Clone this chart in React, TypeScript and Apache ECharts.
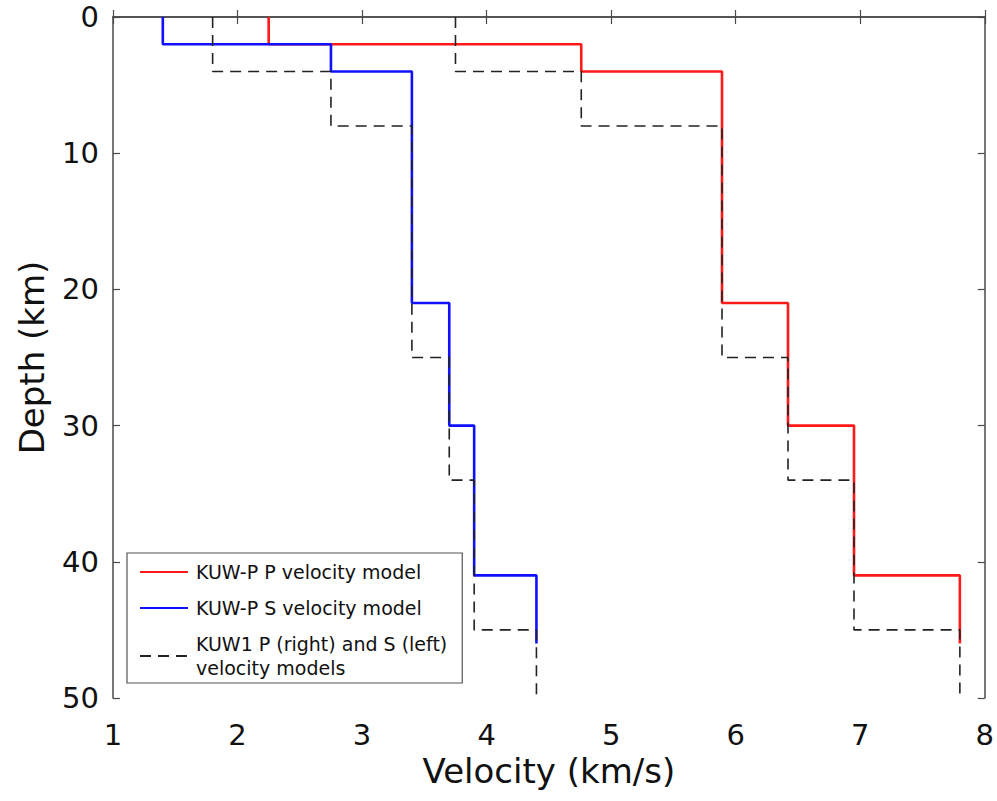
import React, { useEffect, useRef } from "react";
import * as echarts from "echarts";

// KUW-P model (solid): layer tops (km), bottom of last drawn layer, velocities (km/s)
const kuwpTops = [0, 2, 4, 21, 30, 41];
const kuwpBottom = 46;
const kuwpVp = [2.25, 4.76, 5.89, 6.42, 6.95, 7.8];
const kuwpVs = [1.4, 2.75, 3.4, 3.7, 3.9, 4.4];

// KUW1 model (dashed)
const kuw1Tops = [0, 4, 8, 25, 34, 45];
const kuw1Bottom = 50;
const kuw1Vp = [3.75, 4.76, 5.89, 6.42, 6.95, 7.8];
const kuw1Vs = [1.8, 2.75, 3.4, 3.7, 3.9, 4.4];

const xTicks = [1, 2, 3, 4, 5, 6, 7, 8];
const yTicks = [0, 10, 20, 30, 40, 50];

const nameP = "KUW-P P velocity model";
const nameS = "KUW-P S velocity model";
const nameK = "KUW1 P (right) and S (left)\nvelocity models";

function stepProfile(tops: number[], bottom: number, vel: number[]) {
  const pts: number[][] = [];
  for (let i = 0; i < tops.length; i++) {
    const b = i < tops.length - 1 ? tops[i + 1] : bottom;
    pts.push([vel[i], tops[i]]);
    pts.push([vel[i], b]);
  }
  return pts;
}

const FONT = "DejaVu Sans";
const AXIS_COLOR = "#4a4a4a";

export default function App() {
  const ref = useRef<HTMLDivElement>(null);
  useEffect(() => {
    document.body.style.margin = "0";
    if (!ref.current) return;
    const chart = echarts.init(ref.current, undefined, { renderer: "svg" });
    const tickCommon = {
      show: true,
      inside: true,
      length: 7,
      lineStyle: { color: AXIS_COLOR, width: 1.2 },
    };
    const lineCommon = { show: true, lineStyle: { color: AXIS_COLOR, width: 1.5 } };
    const xMin = xTicks[0];
    const xMax = xTicks[xTicks.length - 1];
    const yMin = yTicks[0];
    const yMax = yTicks[yTicks.length - 1];
    chart.setOption({
      animation: false,
      backgroundColor: "#ffffff",
      grid: { left: 113, top: 17, width: 875, height: 681, containLabel: false },
      legend: {
        orient: "vertical",
        left: 127,
        top: 553,
        padding: [7, 15, 3, 12],
        itemGap: 12,
        itemWidth: 48,
        itemHeight: 14,
        backgroundColor: "#ffffff",
        borderColor: "#555555",
        borderWidth: 1.2,
        borderRadius: 0,
        itemStyle: { opacity: 0 },
        textStyle: { fontFamily: FONT, fontSize: 19, color: "#111", lineHeight: 24, padding: [0, 0, 0, 3] },
        data: [nameP, nameS, nameK],
      },
      xAxis: [
        {
          type: "value",
          position: "bottom",
          min: xMin,
          max: xMax,
          interval: 1,
          name: "Velocity (km/s)",
          nameLocation: "middle",
          nameGap: 52,
          nameTextStyle: { fontFamily: FONT, fontSize: 34, color: "#111" },
          axisLine: lineCommon,
          axisTick: tickCommon,
          axisLabel: { fontFamily: FONT, fontSize: 29, color: "#111", margin: 22 },
          splitLine: { show: false },
        },
        {
          type: "value",
          position: "top",
          min: xMin,
          max: xMax,
          interval: 1,
          axisLine: lineCommon,
          axisTick: tickCommon,
          axisLabel: { show: false },
          splitLine: { show: false },
        },
      ],
      yAxis: [
        {
          type: "value",
          position: "left",
          inverse: true,
          min: yMin,
          max: yMax,
          interval: 10,
          name: "Depth (km)",
          nameLocation: "middle",
          nameGap: 64,
          nameTextStyle: { fontFamily: FONT, fontSize: 34, color: "#111" },
          axisLine: lineCommon,
          axisTick: tickCommon,
          axisLabel: { fontFamily: FONT, fontSize: 29, color: "#111", margin: 14 },
          splitLine: { show: false },
        },
        {
          type: "value",
          position: "right",
          inverse: true,
          min: yMin,
          max: yMax,
          interval: 10,
          axisLine: lineCommon,
          axisTick: tickCommon,
          axisLabel: { show: false },
          splitLine: { show: false },
        },
      ],
      series: [
        {
          name: nameP,
          type: "line",
          data: stepProfile(kuwpTops, kuwpBottom, kuwpVp),
          symbol: "none",
          lineStyle: { color: "#ff1a1a", width: 2.6 },
          itemStyle: { color: "#ff1a1a" },
        },
        {
          name: nameS,
          type: "line",
          data: stepProfile(kuwpTops, kuwpBottom, kuwpVs),
          symbol: "none",
          lineStyle: { color: "#1010ff", width: 2.6 },
          itemStyle: { color: "#1010ff" },
        },
        {
          name: nameK,
          type: "line",
          data: stepProfile(kuw1Tops, kuw1Bottom, kuw1Vp),
          symbol: "none",
          lineStyle: { color: "#222222", width: 1.6, type: [11, 7] },
          itemStyle: { color: "#222222" },
        },
        {
          name: nameK,
          type: "line",
          data: stepProfile(kuw1Tops, kuw1Bottom, kuw1Vs),
          symbol: "none",
          lineStyle: { color: "#222222", width: 1.6, type: [11, 7] },
          itemStyle: { color: "#222222" },
        },
      ],
    });
    return () => chart.dispose();
  }, []);
  return <div ref={ref} style={{ width: 997, height: 801 }} />;
}
